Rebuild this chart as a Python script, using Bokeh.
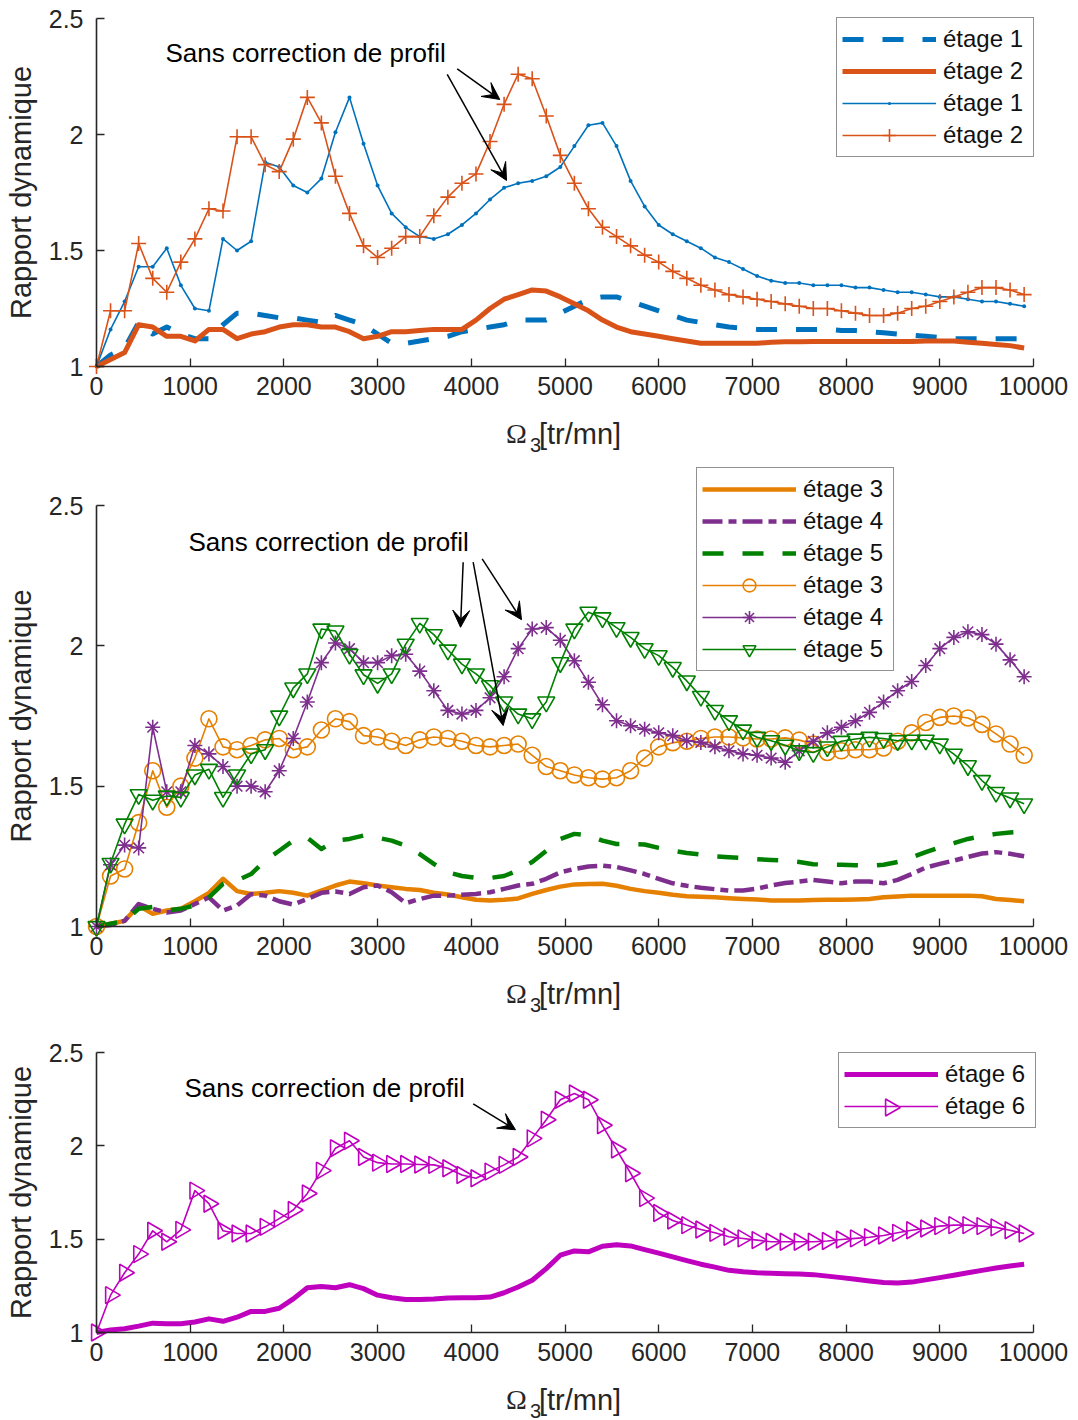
import math
from bokeh.plotting import figure
from bokeh.layouts import column
from bokeh.models import Range1d, FixedTicker, Legend, LegendItem, Label, Arrow, VeeHead
from bokeh.embed import file_html
from bokeh.resources import INLINE

# ---------------- data ----------------
rpm = list(range(0, 9901, 150))

x_ticks = [0, 1000, 2000, 3000, 4000, 5000, 6000, 7000, 8000, 9000, 10000]
y_ticks = [1, 1.5, 2, 2.5]
y_tick_labels = ["1", "1.5", "2", "2.5"]

annotation_text = "Sans correction de profil"
y_label = "Rapport dynamique"

# panel 1
etage1_avec = [1.00, 1.05, 1.08, 1.19, 1.14, 1.17, 1.14, 1.12, 1.12, 1.18, 1.23, 1.23, 1.22, 1.21, 1.21, 1.20, 1.19,
               1.22, 1.20, 1.18, 1.14, 1.10, 1.10, 1.11, 1.12, 1.13, 1.15, 1.16, 1.17, 1.18, 1.20, 1.20, 1.20, 1.23,
               1.26, 1.29, 1.30, 1.30, 1.28, 1.26, 1.24, 1.22, 1.20, 1.19, 1.18, 1.17, 1.165, 1.16, 1.16, 1.16, 1.16,
               1.16, 1.16, 1.155, 1.155, 1.15, 1.145, 1.14, 1.135, 1.13, 1.125, 1.12, 1.12, 1.12, 1.12, 1.12, 1.12]
etage2_avec = [1.00, 1.03, 1.06, 1.18, 1.17, 1.13, 1.13, 1.11, 1.16, 1.16, 1.12, 1.14, 1.15, 1.17, 1.18, 1.18, 1.17,
               1.17, 1.15, 1.12, 1.13, 1.15, 1.15, 1.155, 1.16, 1.16, 1.16, 1.20, 1.25, 1.29, 1.31, 1.33, 1.325, 1.30,
               1.27, 1.24, 1.20, 1.17, 1.15, 1.14, 1.13, 1.12, 1.11, 1.10, 1.10, 1.10, 1.10, 1.10, 1.105, 1.107, 1.107,
               1.108, 1.108, 1.108, 1.108, 1.108, 1.108, 1.108, 1.108, 1.11, 1.11, 1.11, 1.105, 1.10, 1.095, 1.09, 1.08]
etage1_sans = [1.00, 1.16, 1.28, 1.43, 1.43, 1.51, 1.35, 1.25, 1.24, 1.55, 1.50, 1.54, 1.88, 1.86, 1.78, 1.75, 1.81,
               2.01, 2.16, 1.96, 1.78, 1.66, 1.60, 1.56, 1.55, 1.57, 1.61, 1.66, 1.72, 1.77, 1.79, 1.80, 1.82, 1.86,
               1.95, 2.04, 2.05, 1.95, 1.80, 1.69, 1.61, 1.57, 1.54, 1.51, 1.47, 1.45, 1.42, 1.39, 1.37, 1.36, 1.36,
               1.35, 1.35, 1.35, 1.34, 1.34, 1.33, 1.32, 1.32, 1.31, 1.30, 1.30, 1.29, 1.28, 1.28, 1.27, 1.26]
etage2_sans = [1.00, 1.24, 1.24, 1.53, 1.38, 1.32, 1.45, 1.55, 1.68, 1.67, 1.99, 1.99, 1.87, 1.84, 1.98, 2.16, 2.05,
               1.82, 1.66, 1.52, 1.47, 1.51, 1.56, 1.56, 1.65, 1.73, 1.79, 1.83, 1.97, 2.13, 2.26, 2.24, 2.08, 1.91,
               1.79, 1.68, 1.60, 1.56, 1.52, 1.48, 1.45, 1.41, 1.38, 1.35, 1.33, 1.31, 1.30, 1.29, 1.28, 1.27, 1.26,
               1.25, 1.25, 1.24, 1.23, 1.22, 1.22, 1.23, 1.25, 1.26, 1.28, 1.30, 1.32, 1.34, 1.34, 1.33, 1.31]

# panel 2
etage3_avec = [1.00, 1.01, 1.02, 1.075, 1.045, 1.057, 1.063, 1.09, 1.12, 1.17, 1.126, 1.116, 1.12, 1.126, 1.12, 1.11,
               1.128, 1.146, 1.16, 1.154, 1.146, 1.14, 1.134, 1.13, 1.12, 1.114, 1.104, 1.095, 1.093, 1.095, 1.10,
               1.116, 1.13, 1.142,
               1.15, 1.151, 1.152, 1.145, 1.134, 1.126, 1.12, 1.113, 1.108, 1.106, 1.104, 1.101, 1.098, 1.096, 1.093,
               1.093, 1.093, 1.094, 1.095, 1.095, 1.096, 1.098, 1.104, 1.107, 1.11, 1.11, 1.11, 1.11, 1.11, 1.108,
               1.098, 1.094, 1.09]
etage4_avec = [1.00, 1.005, 1.02, 1.08, 1.063, 1.05, 1.057, 1.08, 1.104, 1.057, 1.075, 1.116, 1.11, 1.09, 1.078, 1.098,
               1.12, 1.125, 1.116, 1.14, 1.146, 1.122, 1.083, 1.098, 1.11, 1.11, 1.113, 1.116, 1.122, 1.134, 1.146,
               1.152, 1.17, 1.193,
               1.205, 1.214, 1.217, 1.212, 1.2, 1.187, 1.17, 1.154, 1.145, 1.138, 1.133, 1.128, 1.128, 1.135, 1.146,
               1.155, 1.16, 1.166, 1.16, 1.154, 1.16, 1.16, 1.154, 1.166, 1.187, 1.21, 1.223, 1.235, 1.248, 1.26,
               1.265, 1.259, 1.25]
etage5_avec = [1.00, 1.01, 1.02, 1.063, 1.07, 1.057, 1.063, 1.075, 1.104, 1.152, 1.164, 1.187, 1.235, 1.27, 1.306,
               1.316, 1.276, 1.306, 1.312, 1.324, 1.316, 1.306, 1.288, 1.258, 1.223, 1.193, 1.18, 1.173, 1.173, 1.18,
               1.20, 1.23, 1.27, 1.312,
               1.33, 1.325, 1.306, 1.294, 1.294, 1.292, 1.28, 1.27, 1.262, 1.256, 1.25, 1.247, 1.244, 1.24, 1.237,
               1.235, 1.23, 1.222, 1.22, 1.22, 1.218, 1.217, 1.22, 1.23, 1.247, 1.265, 1.282, 1.297, 1.312, 1.322,
               1.33, 1.335, 1.338]
etage3_sans = [1.00, 1.18, 1.205, 1.37, 1.555, 1.425, 1.50, 1.60, 1.74, 1.64, 1.63, 1.645, 1.665, 1.67, 1.63, 1.64,
               1.70, 1.74, 1.73, 1.68, 1.675, 1.66, 1.645, 1.665, 1.675, 1.67, 1.66, 1.645, 1.64, 1.645, 1.65, 1.61,
               1.57, 1.555,
               1.54, 1.53, 1.525, 1.53, 1.555, 1.60, 1.64, 1.655, 1.66, 1.67, 1.675, 1.675, 1.672, 1.668, 1.668,
               1.672, 1.664, 1.65, 1.62, 1.626, 1.63, 1.63, 1.636, 1.66, 1.69, 1.727, 1.745, 1.75, 1.743, 1.72,
               1.686, 1.65, 1.61]
etage4_sans = [1.00, 1.22, 1.29, 1.28, 1.71, 1.48, 1.48, 1.645, 1.615, 1.57, 1.50, 1.50, 1.48, 1.555, 1.67, 1.80,
               1.94, 2.01, 1.99, 1.94, 1.94, 1.965, 1.97, 1.91, 1.84, 1.77, 1.757, 1.77, 1.815, 1.89, 1.99, 2.06,
               2.065, 2.02,
               1.947, 1.87, 1.79, 1.733, 1.715, 1.703, 1.69, 1.68, 1.662, 1.656, 1.64, 1.626, 1.615, 1.61, 1.60,
               1.585, 1.626, 1.66, 1.69, 1.71, 1.733, 1.763, 1.80, 1.84, 1.873, 1.93, 1.99, 2.03, 2.05, 2.04,
               2.006, 1.95, 1.89]
etage5_sans = [1.00, 1.225, 1.365, 1.47, 1.45, 1.465, 1.46, 1.54, 1.56, 1.46, 1.54, 1.615, 1.63, 1.75, 1.85, 1.90,
               2.06, 2.053, 1.97, 1.897, 1.866, 1.90, 2.006, 2.08, 2.04, 1.985, 1.935, 1.90, 1.858, 1.80, 1.757,
               1.74, 1.80, 1.94,
               2.06, 2.12, 2.10, 2.065, 2.03, 1.99, 1.965, 1.923, 1.875, 1.82, 1.77, 1.733, 1.70, 1.674, 1.662,
               1.646, 1.626, 1.62, 1.64, 1.66, 1.668, 1.674, 1.67, 1.662, 1.664, 1.664, 1.65, 1.614, 1.573, 1.52,
               1.478, 1.458, 1.437]

# panel 3
etage6_avec = [1.00, 1.014, 1.02, 1.034, 1.05, 1.047, 1.047, 1.056, 1.073, 1.06, 1.082, 1.113, 1.113, 1.13, 1.18,
               1.24, 1.247, 1.24, 1.256, 1.235, 1.20, 1.186, 1.177, 1.177, 1.18, 1.185, 1.186, 1.186, 1.19, 1.213,
               1.244, 1.28, 1.342, 1.414,
               1.437, 1.432, 1.462, 1.47, 1.464, 1.444, 1.425, 1.405, 1.385, 1.366, 1.35, 1.333, 1.325, 1.32,
               1.317, 1.315, 1.313, 1.31, 1.302, 1.294, 1.285, 1.276, 1.268, 1.265, 1.27, 1.282, 1.294, 1.307,
               1.32, 1.333, 1.346, 1.356, 1.366]
etage6_sans = [1.00, 1.20, 1.32, 1.42, 1.545, 1.486, 1.55, 1.76, 1.69, 1.545, 1.53, 1.53, 1.566, 1.61, 1.656, 1.745,
               1.867, 1.987, 2.027, 1.94, 1.91, 1.903, 1.903, 1.90, 1.898, 1.88, 1.844, 1.826, 1.862, 1.898, 1.94,
               2.04, 2.14, 2.247,
               2.28, 2.247, 2.11, 1.98, 1.853, 1.72, 1.64, 1.60, 1.575, 1.552, 1.534, 1.513, 1.504, 1.495, 1.486,
               1.486, 1.486, 1.486, 1.49, 1.498, 1.504, 1.51, 1.52, 1.534, 1.548, 1.557, 1.57, 1.575, 1.575, 1.57,
               1.563, 1.548, 1.53]

# ---------------- styling / geometry (pixels) ----------------
BLUE = "#0072BD"
RED = "#D95319"
ORANGE = "#E68000"
PURPLE = "#7E2F8E"
GREEN = "#008000"
MAGENTA = "#BF00BF"
AX = "#262626"
FONT = "Liberation Sans"

W = 1078
AXIS_LEFT = 96          # pixel of x = 0
AXIS_W = 937            # pixels for 0..10000
PX_RPM = AXIS_W / 10000.0

LEG_PAD = 5
LEG_GLYPH_W = 94
LEG_ROW = 32


def make_panel(height, axis_top_px, axis_h_px):
    """Frame covers the whole canvas; axes are drawn at fixed data locations."""
    scale = axis_h_px / 1.5
    y_hi = 2.5 + axis_top_px / scale
    y_lo = 1.0 - (height - axis_top_px - axis_h_px) / scale
    x_lo = -AXIS_LEFT / PX_RPM
    x_hi = 10000 + (W - AXIS_LEFT - AXIS_W) / PX_RPM
    p = figure(width=W, height=height, title=None,
               x_range=Range1d(x_lo, x_hi), y_range=Range1d(y_lo, y_hi),
               output_backend="svg", toolbar_location=None,
               min_border_left=0, min_border_right=0, min_border_top=0, min_border_bottom=0)
    p.outline_line_color = None
    p.xgrid.visible = False
    p.ygrid.visible = False
    for ax in (p.xaxis[0], p.yaxis[0]):
        ax.axis_line_color = AX
        ax.axis_line_width = 1.6
        ax.major_tick_line_color = AX
        ax.major_tick_line_width = 1.3
        ax.major_tick_in = 8
        ax.major_tick_out = 0
        ax.minor_tick_in = 0
        ax.minor_tick_out = 0
        ax.major_label_text_font = FONT
        ax.major_label_text_font_size = "25px"
        ax.major_label_text_color = AX
    xa, ya = p.xaxis[0], p.yaxis[0]
    xa.ticker = FixedTicker(ticks=x_ticks)
    ya.ticker = FixedTicker(ticks=y_ticks)
    xa.fixed_location = 1.0
    ya.fixed_location = 0.0
    xa.bounds = (0, 10000)
    ya.bounds = (1, 2.5)
    ya.major_label_overrides = {t: s for t, s in zip(y_ticks, y_tick_labels)}
    xa.major_label_standoff = 10
    ya.major_label_standoff = 13
    ya.axis_label = y_label
    ya.axis_label_text_font = FONT
    ya.axis_label_text_font_size = "29px"
    ya.axis_label_text_font_style = "normal"
    ya.axis_label_text_color = AX
    ya.axis_label_standoff = 9
    # x axis label: Omega with subscript 3
    common = dict(x=5000, text_baseline="alphabetic", text_align="left", text_color=AX)
    p.add_layout(Label(y=1 - 67 / scale, x_offset=-59, text="Ω", text_font="Liberation Serif",
                       text_font_size="28px", **common))
    p.add_layout(Label(y=1 - 78 / scale, x_offset=-35, text="3", text_font=FONT,
                       text_font_size="20px", **common))
    p.add_layout(Label(y=1 - 67 / scale, x_offset=-26, text="[tr/mn]", text_font=FONT,
                       text_font_size="29px", **common))
    return p, scale


def thick(p, y, color, dash="solid", width=5):
    return p.line(rpm, y, line_color=color, line_width=width, line_dash=dash, line_join="round")


def thin(p, y, color, marker, size, angle=0.0, filled=False):
    r1 = p.line(rpm, y, line_color=color, line_width=1.6, line_join="round")
    r2 = p.scatter(rpm, y, marker=marker, size=size, angle=angle, line_color=color, line_width=1.6,
                   fill_color=color if filled else None)
    return [r1, r2]


def legend(p, items, left_px, top_px, height, bg_alpha=1.0):
    n = len(items)
    leg_h = n * LEG_ROW + 2 * LEG_PAD
    lg = Legend(items=items, location=(left_px, height - top_px - leg_h), margin=0,
                padding=LEG_PAD, spacing=0,
                glyph_width=LEG_GLYPH_W, glyph_height=LEG_ROW, label_height=LEG_ROW, label_width=85,
                label_standoff=7,
                label_text_font=FONT, label_text_font_size="24px", label_text_color="#111111",
                border_line_color=AX, border_line_width=1.5,
                background_fill_color="white", background_fill_alpha=bg_alpha)
    p.add_layout(lg, "center")
    return lg


def note(p, x, y):
    p.add_layout(Label(x=x, y=y, text=annotation_text, text_font=FONT, text_font_size="26px",
                       text_color="black", text_baseline="alphabetic", text_align="left"))


def arrow(p, xs, ys, xe, ye):
    p.add_layout(Arrow(x_start=xs, y_start=ys, x_end=xe, y_end=ye, line_color="black", line_width=1.5,
                       end=VeeHead(size=17, fill_color="black", line_color="black", line_width=1)))


# ---------------- panel 1 ----------------
H1 = 460
p1, s1 = make_panel(H1, 18, 348)
r_e1 = thick(p1, etage1_avec, BLUE, dash="21 19")
r_e2 = thick(p1, etage2_avec, RED)
r_e1s = thin(p1, etage1_sans, BLUE, "dot", 16, filled=True)
r_e2s = thin(p1, etage2_sans, RED, "cross", 15)
legend(p1, [LegendItem(label="étage 1", renderers=[r_e1]),
            LegendItem(label="étage 2", renderers=[r_e2]),
            LegendItem(label="étage 1", renderers=r_e1s),
            LegendItem(label="étage 2", renderers=r_e2s)], 836, 19, H1)
note(p1, 736, 2.350)
arrow(p1, 3850, 2.283, 4304, 2.151)
arrow(p1, 3743, 2.259, 4376, 1.802)

# ---------------- panel 2 ----------------
H2 = 558
p2, s2 = make_panel(H2, 45, 421)
r_e3 = thick(p2, etage3_avec, ORANGE, width=4.5)
r_e4 = thick(p2, etage4_avec, PURPLE, dash="20 6 8 6", width=4.5)
r_e5 = thick(p2, etage5_avec, GREEN, dash="21 19", width=4.5)
r_e3s = thin(p2, etage3_sans, ORANGE, "circle", 16)
r_e4s = thin(p2, etage4_sans, PURPLE, "asterisk", 15)
r_e5s = thin(p2, etage5_sans, GREEN, "inverted_triangle", 17)
legend(p2, [LegendItem(label="étage 3", renderers=[r_e3]),
            LegendItem(label="étage 4", renderers=[r_e4]),
            LegendItem(label="étage 5", renderers=[r_e5]),
            LegendItem(label="étage 3", renderers=r_e3s),
            LegendItem(label="étage 4", renderers=r_e4s),
            LegendItem(label="étage 5", renderers=r_e5s)], 696, 9, H2)
note(p2, 982, 2.369)
arrow(p2, 3913, 2.298, 3885, 2.066)
arrow(p2, 4020, 2.298, 4340, 1.716)
arrow(p2, 4116, 2.310, 4536, 2.093)

# ---------------- panel 3 ----------------
H3 = 402
P3_AXIS_TOP = 34
p3, s3 = make_panel(H3, P3_AXIS_TOP, 280)
r_e6 = thick(p3, etage6_avec, MAGENTA)
r_e6s = thin(p3, etage6_sans, MAGENTA, "triangle", 17, angle=-math.pi / 2)
LEG3_LEFT = 838
LEG3_TOP = 36
# transparent legend background (no curve passes there) so the rotated marker below shows through
legend(p3, [LegendItem(label="étage 6", renderers=[r_e6]),
            LegendItem(label="étage 6", renderers=[r_e6s[0]])], LEG3_LEFT, LEG3_TOP, H3, bg_alpha=0.0)
cx_px = LEG3_LEFT + LEG_PAD + LEG_GLYPH_W / 2
cy_px = LEG3_TOP + LEG_PAD + 1.5 * LEG_ROW
leg_mx = (cx_px - AXIS_LEFT) / PX_RPM
leg_my = 2.5 - (cy_px - P3_AXIS_TOP) / s3
p3.scatter([leg_mx], [leg_my], marker="triangle", size=17, angle=-math.pi / 2,
           line_color=MAGENTA, line_width=1.6, fill_color=None)
note(p3, 939, 2.312)
arrow(p3, 4020, 2.225, 4472, 2.086)

layout = column(p1, p2, p3, spacing=0)
open("out.html", "w").write(file_html(layout, INLINE))
